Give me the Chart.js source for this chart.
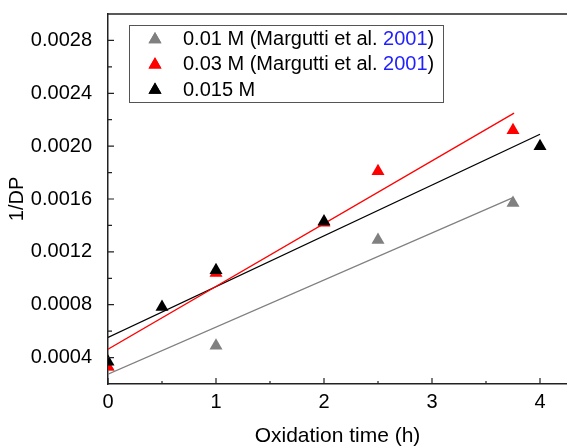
<!DOCTYPE html>
<html>
<head>
<meta charset="utf-8">
<script src="https://cdn.jsdelivr.net/npm/chart.js@4.4.1/dist/chart.umd.min.js"></script>
<style>
    html, body { margin: 0; padding: 0; background: #ffffff; }
    #wrap { width: 567px; height: 446px; }
</style>
</head>
<body>
<div id="wrap"><canvas id="chartDP" width="567" height="446"></canvas></div>
<script>
// ── Données ──
const times01  = [0, 1, 2.5, 3.75];
const dp01     = [0.00033, 0.00049, 0.00129, 0.00157];
const times03  = [0, 1, 2, 2.5, 3.75];
const dp03     = [0.00033, 0.00104, 0.00142, 0.00181, 0.00212];
const times015 = [0, 0.5, 1, 2, 4];
const dp015    = [0.000368, 0.000783, 0.00106, 0.00143, 0.0020];

// droites d'ajustement (extrémités lues)
const fitX01  = [0, 3.75];
const fitY01  = [0.000274, 0.00161];
const fitX03  = [0, 3.76];
const fitY03  = [0.000463, 0.00225];
const fitX015 = [0, 4];
const fitY015 = [0.000553, 0.00209];

// graduations
const xTicks = [0, 1, 2, 3, 4];
const xMinor = [0.5, 1.5, 2.5, 3.5];
const yTicks = [0.0004, 0.0008, 0.0012, 0.0016, 0.0020, 0.0024, 0.0028];
const yMinor = [0.0006, 0.0010, 0.0014, 0.0018, 0.0022, 0.0026];

const legendItems = [
    { before: '0.01 M (Margutti et al. ', year: '2001', after: ')', color: '#808080' },
    { before: '0.03 M (Margutti et al. ', year: '2001', after: ')', color: '#ff0000' },
    { before: '0.015 M', year: '', after: '', color: '#000000' }
];

const FONT = "'Liberation Sans', Arial, sans-serif";
const AXE = '#222222';

const pts = (xs, ys) => xs.map((x, i) => ({ x: x, y: ys[i] }));

function serie(xs, ys, color, order) {
    return {
        data: pts(xs, ys),
        showLine: false,
        pointStyle: 'triangle',
        pointRadius: 7.5,
        pointBackgroundColor: color,
        pointBorderWidth: 0,
        borderColor: color,
        clip: 0,
        order: order
    };
}

function droite(xs, ys, color) {
    return {
        data: pts(xs, ys),
        showLine: true,
        borderColor: color,
        borderWidth: 1.3,
        pointRadius: 0,
        clip: 0,
        order: 10
    };
}

// ── Cadre, graduations internes et légende ──
const decorPlugin = {
    id: 'decor',
    afterDraw(chart) {
        const ctx = chart.ctx;
        const a = chart.chartArea;
        const sx = chart.scales.x;
        const sy = chart.scales.y;

        ctx.save();
        ctx.strokeStyle = AXE;
        ctx.lineWidth = 1.5;
        ctx.beginPath();
        ctx.moveTo(a.left, a.top);
        ctx.lineTo(a.right, a.top);
        ctx.stroke();

        ctx.lineWidth = 1.2;
        ctx.beginPath();
        xTicks.forEach(v => {
            const px = sx.getPixelForValue(v);
            ctx.moveTo(px, a.bottom); ctx.lineTo(px, a.bottom - 6);
        });
        xMinor.forEach(v => {
            const px = sx.getPixelForValue(v);
            ctx.moveTo(px, a.bottom); ctx.lineTo(px, a.bottom - 3);
        });
        yTicks.forEach(v => {
            const py = sy.getPixelForValue(v);
            ctx.moveTo(a.left, py); ctx.lineTo(a.left + 6, py);
        });
        yMinor.forEach(v => {
            const py = sy.getPixelForValue(v);
            ctx.moveTo(a.left, py); ctx.lineTo(a.left + 4, py);
        });
        ctx.stroke();

        // légende
        ctx.strokeStyle = '#555555';
        ctx.lineWidth = 1;
        ctx.strokeRect(129.5, 25.5, 314, 77);
        ctx.font = '20px ' + FONT;
        ctx.textBaseline = 'middle';
        ctx.textAlign = 'left';
        legendItems.forEach((item, i) => {
            const y = 39.5 + i * 25.3;
            ctx.fillStyle = item.color;
            Chart.helpers.drawPoint(ctx, { pointStyle: 'triangle', radius: 7.5, rotation: 0, borderWidth: 0 }, 155, y);
            ctx.fill();
            let x = 183;
            ctx.fillStyle = '#000000';
            ctx.fillText(item.before, x, y);
            x += ctx.measureText(item.before).width;
            if (item.year) {
                ctx.fillStyle = '#1f1fff';
                ctx.fillText(item.year, x, y);
                x += ctx.measureText(item.year).width;
                ctx.fillStyle = '#000000';
                ctx.fillText(item.after, x, y);
            }
        });
        ctx.restore();
    }
};

new Chart(
    document.getElementById('chartDP'), {
    type: 'scatter',
    data: {
        datasets: [
            serie(times015, dp015, '#000000', 1),
            serie(times03, dp03, '#ff0000', 2),
            serie(times01, dp01, '#808080', 3),
            droite(fitX01, fitY01, '#808080'),
            droite(fitX03, fitY03, '#ff0000'),
            droite(fitX015, fitY015, '#000000')
        ]
    },
    options: {
        responsive: false,
        animation: false,
        layout: { autoPadding: false, padding: { top: 14, right: 0, left: 0, bottom: 0 } },
        plugins: {
            legend: { display: false },
            tooltip: { enabled: false }
        },
        scales: {
            x: {
                type: 'linear',
                min: 0,
                max: 4.25,
                afterBuildTicks: s => { s.ticks = xTicks.map(v => ({ value: v })); },
                afterFit: s => { s.height = 62; s.paddingLeft = 0; s.paddingRight = 0; },
                grid: { display: false },
                border: { display: true, color: AXE, width: 1.5 },
                ticks: {
                    padding: -2,
                    color: '#000000',
                    font: { family: FONT, size: 20 },
                    callback: v => String(v)
                },
                title: {
                    display: true,
                    text: 'Oxidation time (h)',
                    color: '#000000',
                    font: { family: FONT, size: 21, lineHeight: 1 },
                    padding: { top: 0, bottom: -1 }
                }
            },
            y: {
                type: 'linear',
                min: 0.0002,
                max: 0.003,
                afterBuildTicks: s => { s.ticks = yTicks.map(v => ({ value: v })); },
                afterFit: s => { s.width = 108; s.paddingTop = 0; s.paddingBottom = 0; },
                grid: { display: false },
                border: { display: true, color: AXE, width: 1.5 },
                ticks: {
                    padding: 8,
                    color: '#000000',
                    font: { family: FONT, size: 20 },
                    callback: v => v.toFixed(4)
                },
                title: {
                    display: true,
                    text: '1/DP',
                    color: '#000000',
                    font: { family: FONT, size: 20, lineHeight: 1 },
                    padding: { top: 7, bottom: 0 }
                }
            }
        }
    },
    plugins: [decorPlugin]
});
</script>
</body>
</html>
